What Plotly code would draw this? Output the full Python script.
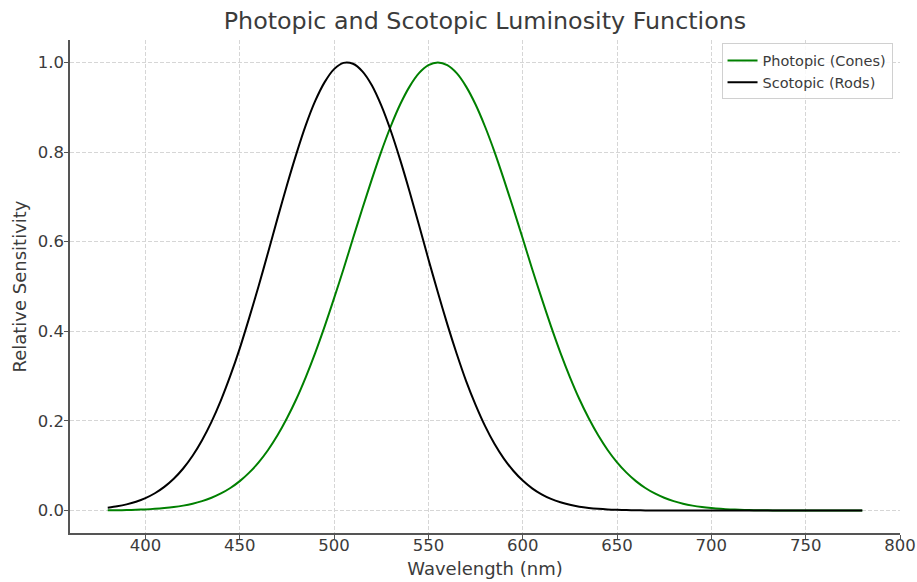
import plotly.graph_objects as go

# Relative luminous sensitivity of the eye, sampled every 5 nm from 380 to 780 nm
wavelength = list(range(380, 785, 5))
photopic = [
    0.0005, 0.0008, 0.0012, 0.0018, 0.0027, 0.0039, 0.0056, 0.0079, 0.0111,
    0.0154, 0.0211, 0.0286, 0.0382, 0.0504, 0.0657, 0.0847, 0.1077, 0.1353,
    0.168, 0.206, 0.249, 0.298, 0.352, 0.411, 0.474, 0.539, 0.607, 0.674,
    0.739, 0.801, 0.857, 0.906, 0.946, 0.976, 0.994, 1.0,
    0.994, 0.976, 0.946, 0.906, 0.857, 0.801, 0.739, 0.674, 0.607, 0.539,
    0.474, 0.411, 0.352, 0.298, 0.249, 0.206, 0.168, 0.1353, 0.1077, 0.0847,
    0.0657, 0.0504, 0.0382, 0.0286, 0.0211, 0.0154, 0.0111, 0.0079, 0.0056,
    0.0039, 0.0027, 0.0018, 0.0012, 0.0008, 0.0005, 0.0003, 0.0002, 0.0001,
    0.0001, 0.0, 0.0, 0.0, 0.0, 0.0, 0.0,
]
scotopic = [
    0.0065, 0.0096, 0.0139, 0.0198, 0.0279, 0.0387, 0.0529, 0.0710, 0.0939,
    0.1223, 0.157, 0.198, 0.246, 0.301, 0.362, 0.430, 0.501, 0.576, 0.652,
    0.726, 0.796, 0.860, 0.914, 0.956, 0.985, 0.999, 0.997, 0.980, 0.949,
    0.904, 0.848, 0.783, 0.712, 0.637, 0.561, 0.487, 0.416, 0.350, 0.289,
    0.236, 0.189, 0.149, 0.116, 0.0889, 0.067, 0.0497, 0.0363, 0.0261, 0.0185,
    0.0129, 0.0088, 0.0060, 0.0040, 0.0026, 0.0017, 0.0011, 0.0007, 0.0004,
    0.0002, 0.0001, 0.0001,
    0.0, 0.0, 0.0, 0.0, 0.0, 0.0, 0.0, 0.0, 0.0, 0.0,
    0.0, 0.0, 0.0, 0.0, 0.0, 0.0, 0.0, 0.0, 0.0, 0.0,
]

x_ticks = [400, 450, 500, 550, 600, 650, 700, 750, 800]
y_ticks = [0.0, 0.2, 0.4, 0.6, 0.8, 1.0]
y_tick_text = ["0.0", "0.2", "0.4", "0.6", "0.8", "1.0"]

FONT = "DejaVu Sans"
TEXT = "#3b3b3b"
SPINE = "#555555"
GRID = "#d6d6d6"

fig = go.Figure()
fig.add_trace(go.Scatter(
    x=wavelength, y=photopic, mode="lines", name="Photopic (Cones)",
    line=dict(color="#008000", width=2, shape="spline", smoothing=0.8),
))
fig.add_trace(go.Scatter(
    x=wavelength, y=scotopic, mode="lines", name="Scotopic (Rods)",
    line=dict(color="#000000", width=2, shape="spline", smoothing=0.8),
))

axis_common = dict(
    showline=True, linecolor=SPINE, linewidth=1.5,
    ticks="outside", ticklen=4, tickwidth=1.2, tickcolor=SPINE,
    showgrid=True, gridcolor=GRID, gridwidth=1, griddash="4px,2px",
    zeroline=False, tickfont=dict(family=FONT, size=16.5, color=TEXT),
    mirror=False,
)

fig.update_layout(
    width=917, height=582,
    margin=dict(l=70, r=17, t=40, b=49),
    paper_bgcolor="white", plot_bgcolor="white",
    font=dict(family=FONT, color=TEXT),
    title=dict(
        text="Photopic and Scotopic Luminosity Functions",
        font=dict(family=FONT, size=23.8, color=TEXT),
        x=0.5, xref="paper", xanchor="center",
        y=1 - 21 / 582, yref="container", yanchor="middle",
    ),
    xaxis=dict(
        range=[360, 800], tickvals=x_ticks, ticklabelstandoff=-8,
        title=dict(text="Wavelength (nm)", standoff=9,
                   font=dict(family=FONT, size=18, color=TEXT)),
        automargin=False, **axis_common,
    ),
    yaxis=dict(
        range=[-0.05, 1.05], tickvals=y_ticks, ticktext=y_tick_text,
        ticklabelstandoff=-3,
        title=dict(text="Relative Sensitivity", standoff=6,
                   font=dict(family=FONT, size=18, color=TEXT)),
        automargin=False, **axis_common,
    ),
    legend=dict(
        x=0.991, y=0.993, xanchor="right", yanchor="top",
        bgcolor="rgba(255,255,255,0.85)", bordercolor="#d0d0d0", borderwidth=1,
        font=dict(family=FONT, size=14.5, color=TEXT),
        tracegroupgap=0, itemwidth=30,
    ),
    showlegend=True,
)

fig.write_html("out.html")
